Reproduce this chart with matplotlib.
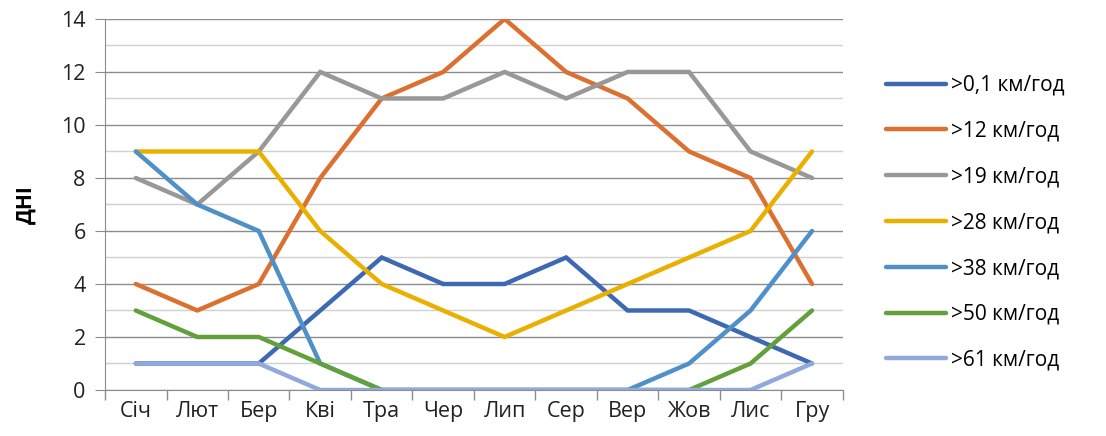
import matplotlib.pyplot as plt
from matplotlib.ticker import MultipleLocator

# Monthly wind-speed day counts
months = ['Січ', 'Лют', 'Бер', 'Кві', 'Тра', 'Чер', 'Лип', 'Сер', 'Вер', 'Жов', 'Лис', 'Гру']
labels = ['>0,1 км/год', '>12 км/год', '>19 км/год', '>28 км/год',
          '>38 км/год', '>50 км/год', '>61 км/год']
s01 = [1, 1, 1, 3, 5, 4, 4, 5, 3, 3, 2, 1]
s12 = [4, 3, 4, 8, 11, 12, 14, 12, 11, 9, 8, 4]
s19 = [8, 7, 9, 12, 11, 11, 12, 11, 12, 12, 9, 8]
s28 = [9, 9, 9, 6, 4, 3, 2, 3, 4, 5, 6, 9]
s38 = [9, 7, 6, 1, 0, 0, 0, 0, 0, 1, 3, 6]
s50 = [3, 2, 2, 1, 0, 0, 0, 0, 0, 0, 1, 3]
s61 = [1, 1, 1, 0, 0, 0, 0, 0, 0, 0, 0, 1]
series = [s01, s12, s19, s28, s38, s50, s61]
colors = ['#3D68B2', '#DC7030', '#989898', '#EAB000', '#5090C8', '#62A03C', '#91A8DA']

plt.rcParams['font.family'] = ['Open Sans', 'DejaVu Sans']

fig = plt.figure(figsize=(11.06, 4.36), dpi=100)
ax = fig.add_axes([0.095, 0.1055, 0.667, 0.851])

x = list(range(len(months)))
for vals, lab, col in zip(series, labels, colors):
    ax.plot(x, vals, color=col, lw=3.2, label=lab, solid_joinstyle='miter',
            solid_capstyle='round', zorder=3)

ax.set_xlim(-0.5, 11.5)
ax.set_ylim(0, 14)
ax.yaxis.set_major_locator(MultipleLocator(2))
ax.yaxis.set_minor_locator(MultipleLocator(1))
ax.grid(axis='y', which='major', color='#8c8c8c', lw=1)
ax.grid(axis='y', which='minor', color='#d0d0d0', lw=1)

# category labels centred, tick marks on the boundaries
ax.set_xticks(x)
ax.set_xticklabels(months, fontsize=15.5, color='#222222')
ax.set_xticks([i - 0.5 for i in range(13)], minor=True)
ax.tick_params(axis='x', which='major', length=0, pad=8)
ax.tick_params(axis='x', which='minor', length=7, color='#8c8c8c', width=1)
ax.tick_params(axis='y', which='major', labelsize=15.5, labelcolor='#222222',
               length=7, color='#8c8c8c', pad=7)
ax.tick_params(axis='y', which='minor', length=0)

for side in ['top', 'right']:
    ax.spines[side].set_visible(False)
for side in ['left', 'bottom']:
    ax.spines[side].set_color('#8c8c8c')

ax.set_ylabel('ДНІ', fontsize=15, fontweight='bold', labelpad=18)

fig.legend(loc='upper left', bbox_to_anchor=(0.784, 0.871), frameon=False,
           fontsize=15, handlelength=2.9, labelspacing=1.19, handletextpad=0.25)

fig.savefig('out.png', dpi=100)
